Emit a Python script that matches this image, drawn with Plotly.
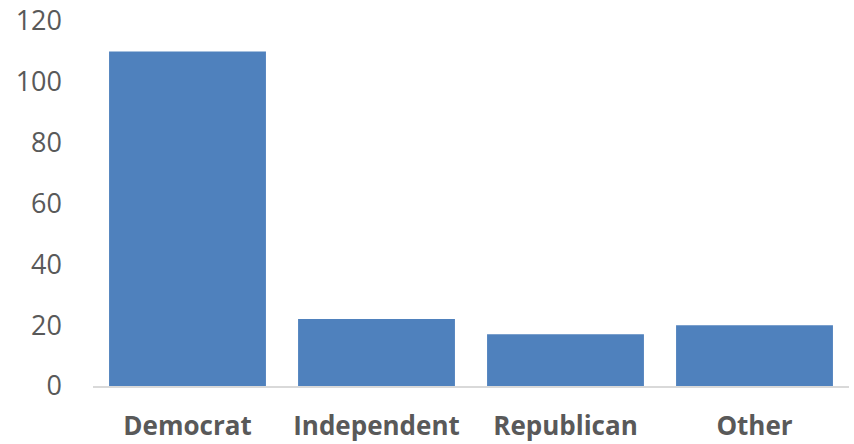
import plotly.graph_objects as go

# Party affiliation counts
parties = ["Democrat", "Independent", "Republican", "Other"]
counts = [110, 22, 17, 20]
y_ticks = [0, 20, 40, 60, 80, 100, 120]

bar_color = "#4f81bd"
text_color = "#595959"

fig = go.Figure(
    go.Bar(
        x=parties,
        y=counts,
        marker=dict(color=bar_color, line=dict(width=0)),
    )
)

fig.update_layout(
    width=854,
    height=444,
    margin=dict(l=93, r=5, t=21, b=58),
    paper_bgcolor="white",
    plot_bgcolor="white",
    bargap=0.17,
    showlegend=False,
    font=dict(family="Open Sans", color=text_color),
)

fig.update_yaxes(
    range=[0, 120],
    tickvals=y_ticks,
    showgrid=False,
    zeroline=False,
    showline=False,
    automargin=False,
    tickfont=dict(size=27, color=text_color),
    ticklabelstandoff=30,
)

fig.update_xaxes(
    showline=True,
    linecolor="#d9d9d9",
    linewidth=2,
    showgrid=False,
    automargin=False,
    tickfont=dict(size=26, color=text_color, weight="bold"),
    ticklabelstandoff=16,
)

fig.write_html("out.html")
